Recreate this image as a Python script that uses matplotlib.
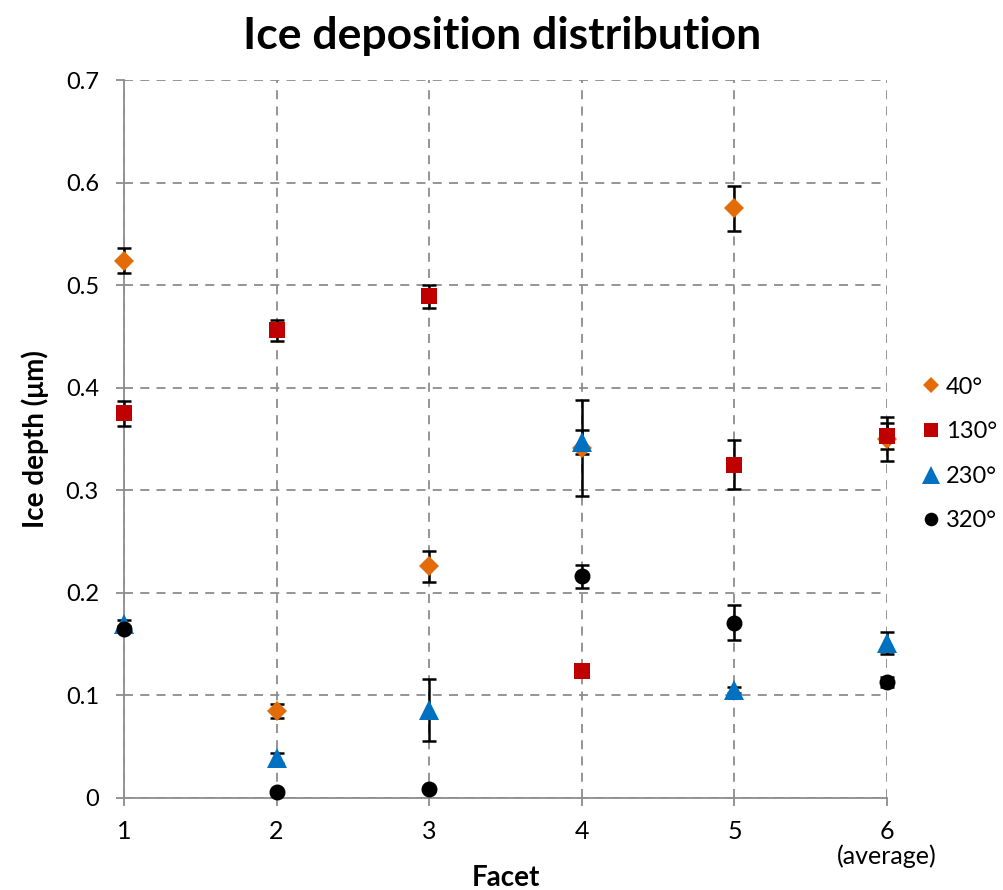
import matplotlib
matplotlib.use("Agg")
import matplotlib.pyplot as plt

plt.rcParams['font.family'] = ['Lato', 'DejaVu Sans']

facets = [1, 2, 3, 4, 5, 6]
xtick_labels = ["1", "2", "3", "4", "5", "6\n(average)"]
series_names = ["40°", "130°", "230°", "320°"]

y40 = [0.524, 0.085, 0.226, 0.341, 0.575, 0.350]
e40 = [0.012, 0.007, 0.015, 0.047, 0.022, 0.021]
y130 = [0.375, 0.456, 0.489, 0.124, 0.325, 0.353]
e130 = [0.012, 0.010, 0.011, 0.003, 0.024, 0.013]
y230 = [0.170, 0.039, 0.086, 0.347, 0.105, 0.151]
e230 = [0.004, 0.005, 0.030, 0.012, 0.003, 0.011]
y320 = [0.165, 0.006, 0.009, 0.216, 0.171, 0.113]
e320 = [0.003, 0.002, 0.002, 0.011, 0.017, 0.005]

fig = plt.figure(figsize=(10.04, 8.9), dpi=100)
ax = fig.add_axes([0.1235, 0.1034, 0.76, 0.8067])

styles = [
    (y40, e40, 'D', '#E36C09', 10),
    (y130, e130, 's', '#C00000', 12),
    (y230, e230, '^', '#0070C0', 15),
    (y320, e320, 'o', '#000000', 11.5),
]
handles = []
for (ys, es, mk, col, ms), name in zip(styles, series_names):
    eb = ax.errorbar(facets, ys, yerr=es, fmt='none', ecolor='black',
                     elinewidth=1.8, capsize=4.7, capthick=1.8, zorder=3)
    for art in eb.lines[1] + eb.lines[2]:
        art.set_clip_on(False)
    ln, = ax.plot(facets, ys, linestyle='none', marker=mk, color=col,
                  markersize=ms, markeredgewidth=0, label=name, zorder=4,
                  clip_on=False)
    handles.append(ln)

ax.set_xlim(1, 6)
ax.set_ylim(0, 0.7)
ax.set_xticks(facets)
ax.set_xticklabels(xtick_labels, fontsize=18, linespacing=1.05)
ax.set_yticks([0, 0.1, 0.2, 0.3, 0.4, 0.5, 0.6, 0.7])
ax.set_yticklabels(["0", "0.1", "0.2", "0.3", "0.4", "0.5", "0.6", "0.7"], fontsize=17)
ax.grid(True, color='#8c8c8c', linestyle=(0, (5, 4)), linewidth=1.3, zorder=0)
for s in ['top', 'right']:
    ax.spines[s].set_visible(False)
for s in ['left', 'bottom']:
    ax.spines[s].set_color('#8c8c8c')
    ax.spines[s].set_linewidth(1.3)
ax.tick_params(axis='both', color='#8c8c8c', length=6, width=1.3)
ax.tick_params(axis='y', pad=12)
ax.tick_params(axis='x', pad=10)

ax.set_xlabel("Facet", fontsize=20, fontweight='bold')
ax.xaxis.set_label_coords(0.5, -0.094)
ax.xaxis.label.set_va('top')
ax.set_ylabel("Ice depth (μm)", fontsize=20, fontweight='bold', labelpad=12)
fig.suptitle("Ice deposition distribution", fontsize=32, fontweight='bold', y=0.982)

ax.legend(handles, series_names, loc='center left', bbox_to_anchor=(1.0, 0.479),
          frameon=False, fontsize=17, handletextpad=0.2, labelspacing=1.0,
          markerscale=0.85, handlelength=0.9, borderaxespad=1.0)

fig.savefig("out.png", dpi=100)
